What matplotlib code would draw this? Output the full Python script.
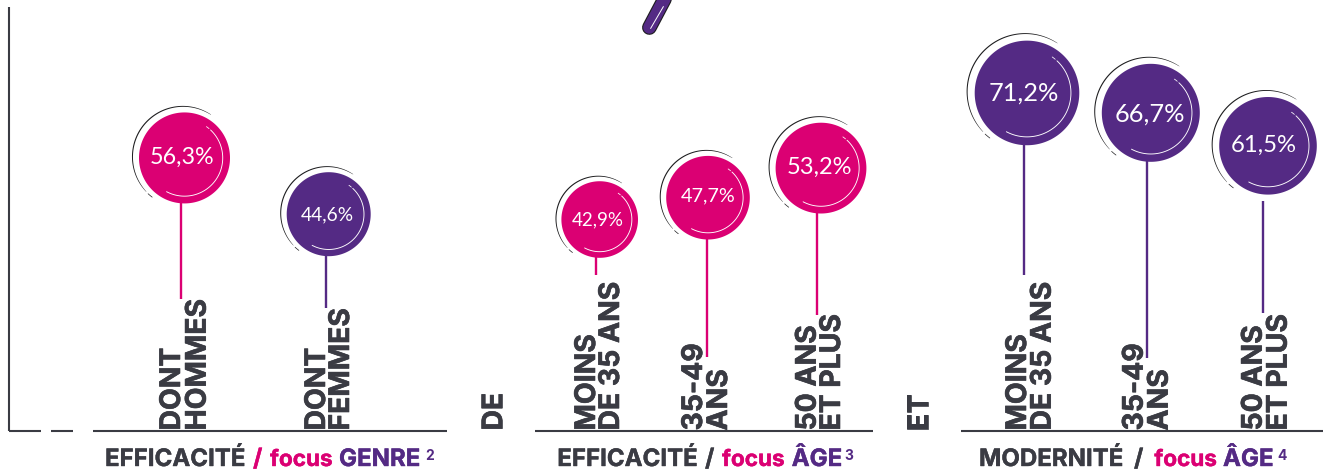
import numpy as np
import matplotlib
matplotlib.use("Agg")
import matplotlib.pyplot as plt
import matplotlib.patheffects as pe

# ---- data ----
value_labels = ["56,3%", "44,6%", "42,9%", "47,7%", "53,2%", "71,2%", "66,7%", "61,5%"]
# height of each bubble centre above the baseline, in % units of the drawn scale
plotted_heights = [56.2, 44.6, 43.5, 48.0, 54.1, 69.6, 65.5, 58.7]
series_kind = ["pink", "purple", "pink", "pink", "pink", "purple", "purple", "purple"]
category_lines = [["DONT", "HOMMES"], ["DONT", "FEMMES"],
                  ["MOINS", "DE 35 ANS"], ["35-49", "ANS"], ["50 ANS", "ET PLUS"],
                  ["MOINS", "DE 35 ANS"], ["35-49", "ANS"], ["50 ANS", "ET PLUS"]]
cut_off_labels = ["DE", "ET"]

# ---- layout (pixels) ----
W, H = 1323, 472
BASE = 430.5
K = 4.85  # pixels per % unit
centers_x = [184.5, 328.7, 599.7, 708.0, 821.0, 1027.0, 1150.8, 1268.0]
radii = [45.5, 42.0, 38.3, 41.8, 45.4, 52.3, 49.0, 48.8]
stem_x = [181, 325.7, 596, 707, 817.3, 1024, 1146.5, 1263]
stem_top = [None, None, None, None, None, None, None, 201]
stem_bottom = [299, 308, 275, 357, 315, 275, 358, 313]
text_xy = [(182.5, 157.5), (327, 214.5), (598, 220), (708, 195.5), (819, 167.2),
           (1024, 93.2), (1150, 114.2), (1264, 145.5)]
text_fs = [16.8, 13.8, 13.5, 14.3, 17.0, 18.3, 18.3, 17.2]
label_x = [(180, 205.7), (325, 349), (595, 619), (702, 727), (815.7, 840),
           (1026, 1050.7), (1142.7, 1167.7), (1261.7, 1286.7)]
cut_x = [502.3, 928]
axis_segments = [(9, 41), (51, 73), (93, 447), (535, 873), (961, 1323)]

PINK, PURPLE, DARK = "#DB0073", "#542A84", "#3A3B43"
COL = {"pink": PINK, "purple": PURPLE}
FONT = "Lato"
BOLD = "Inter"

fig = plt.figure(figsize=(W / 100, H / 100), dpi=100, facecolor="white")
ax = fig.add_axes([0, 0, 1, 1])
ax.set_xlim(0, W)
ax.set_ylim((BASE - H) / K, BASE / K)
ax.axis("off")


def Y(px):
    return (BASE - px) / K


def ring(cx, cy, R, a1, a2, **kw):
    t = np.radians(np.linspace(a1, a2, 120))
    ax.plot(cx + R * np.cos(t), Y(cy - R * np.sin(t)), solid_capstyle="round", **kw)


def crescent(cx, cy, R, a1, a2, w, color, z):
    t = np.linspace(a1, a2, 160)
    u = (t - a1) / (a2 - a1)
    rad = np.radians(t)
    inner = R - w * np.sin(np.pi * u) ** 0.6 - 0.25
    xs = np.r_[cx + R * np.cos(rad), (cx + inner * np.cos(rad))[::-1]]
    ys = np.r_[cy - R * np.sin(rad), (cy - inner * np.sin(rad))[::-1]]
    ax.fill(xs, Y(ys), color=color, lw=0, zorder=z)


def heavy(color, w=0.45):
    return [pe.withStroke(linewidth=w, foreground=color)]


# axis
ax.plot([9, 9], [Y(7), Y(BASE)], color=DARK, lw=1.5, zorder=5, solid_capstyle="butt")
for a, b in axis_segments:
    ax.plot([a, b], [0, 0], color=DARK, lw=1.5, zorder=5, solid_capstyle="butt")

# lollipops
for i, h in enumerate(plotted_heights):
    c = COL[series_kind[i]]
    cx, r = centers_x[i], radii[i]
    cy = BASE - h * K
    top = stem_top[i] if stem_top[i] is not None else cy + r - 1
    ax.plot([stem_x[i]] * 2, [Y(top), Y(stem_bottom[i])], color=c, lw=1.7,
            solid_capstyle="butt", zorder=2)
    t = np.linspace(0, 2 * np.pi, 200)
    ax.fill(cx + r * np.cos(t), h + r * np.sin(t) / K, color=c, lw=0, zorder=3)
    s = r / 45.5
    # outer dark swoosh
    ox, oy = cx - 1.8 * s, cy - 1.3 * s
    crescent(ox, oy, 1.115 * r, 56, 224, 0.9, "#1d1d1f", 3)
    ring(ox, oy, 1.115 * r, 227, 233, color="#1d1d1f", lw=0.5, zorder=3)
    # inner white swoosh
    ring(cx, cy, 0.84 * r, 47, -118, color="white", lw=0.65, zorder=4)
    ring(cx, cy, 0.84 * r, 50, 55, color="white", lw=0.55, zorder=4)
    tx, ty = text_xy[i]
    ax.text(tx, Y(ty), value_labels[i], color="white", fontsize=text_fs[i], family=FONT,
            ha="center", va="center", zorder=6)

# rotated category labels
LABEL_FS = 20.4
for i, lines in enumerate(category_lines):
    for x, s in zip(label_x[i], lines):
        ax.text(x, 0, s, rotation=90, rotation_mode="anchor", ha="left", va="baseline",
                fontsize=LABEL_FS, fontweight="bold", family=BOLD, color=DARK, zorder=1,
                path_effects=heavy(DARK))
for x, s in zip(cut_x, cut_off_labels):
    ax.text(x, 0, s, rotation=90, rotation_mode="anchor", ha="left", va="baseline",
            fontsize=LABEL_FS, fontweight="bold", family=BOLD, color=DARK, zorder=1,
            path_effects=heavy(DARK))

# group titles
TITLE_Y = Y(466)
TFS_CAPS = 17.3
TFS_FOCUS = 16.2
titles = [
    [(105, "EFFICACITÉ", DARK), (253, "/", PINK), (270, "focus", PINK), (339, "GENRE", PURPLE)],
    [(557.3, "EFFICACITÉ", DARK), (705, "/", DARK), (722, "focus", PINK), (791.7, "ÂGE", PURPLE)],
    [(979, "MODERNITÉ", DARK), (1134, "/", DARK), (1154.3, "focus", PINK), (1223, "ÂGE", PURPLE)],
]
notes = [(425, "2"), (844, "3"), (1277, "4")]
for group, (nx, n) in zip(titles, notes):
    for x, s, c in group:
        fs = TFS_FOCUS if s == "focus" else TFS_CAPS
        ax.text(x, TITLE_Y, s, color=c, fontsize=fs, fontweight="bold", family=BOLD,
                ha="left", va="baseline", path_effects=heavy(c, 0.3))
    ax.text(nx, Y(460), n, color=PURPLE, fontsize=10, fontweight="bold", family=BOLD,
            ha="left", va="baseline")

# fragment of the element cut off at the top edge
px0, py0, px1, py1 = 649.4, 27.5, 668.2, -8
ax.plot([px0, px1], [Y(py0), Y(py1)], color="#1d1d1f", lw=10.6, solid_capstyle="round", zorder=3)
ax.plot([px0, px1], [Y(py0), Y(py1)], color=PURPLE, lw=9.0, solid_capstyle="round", zorder=4)
ax.plot([650.7, 663.3], [Y(28.3), Y(6.7)], color="white", lw=0.7, zorder=5)

fig.savefig("out.png", dpi=100, facecolor="white")
